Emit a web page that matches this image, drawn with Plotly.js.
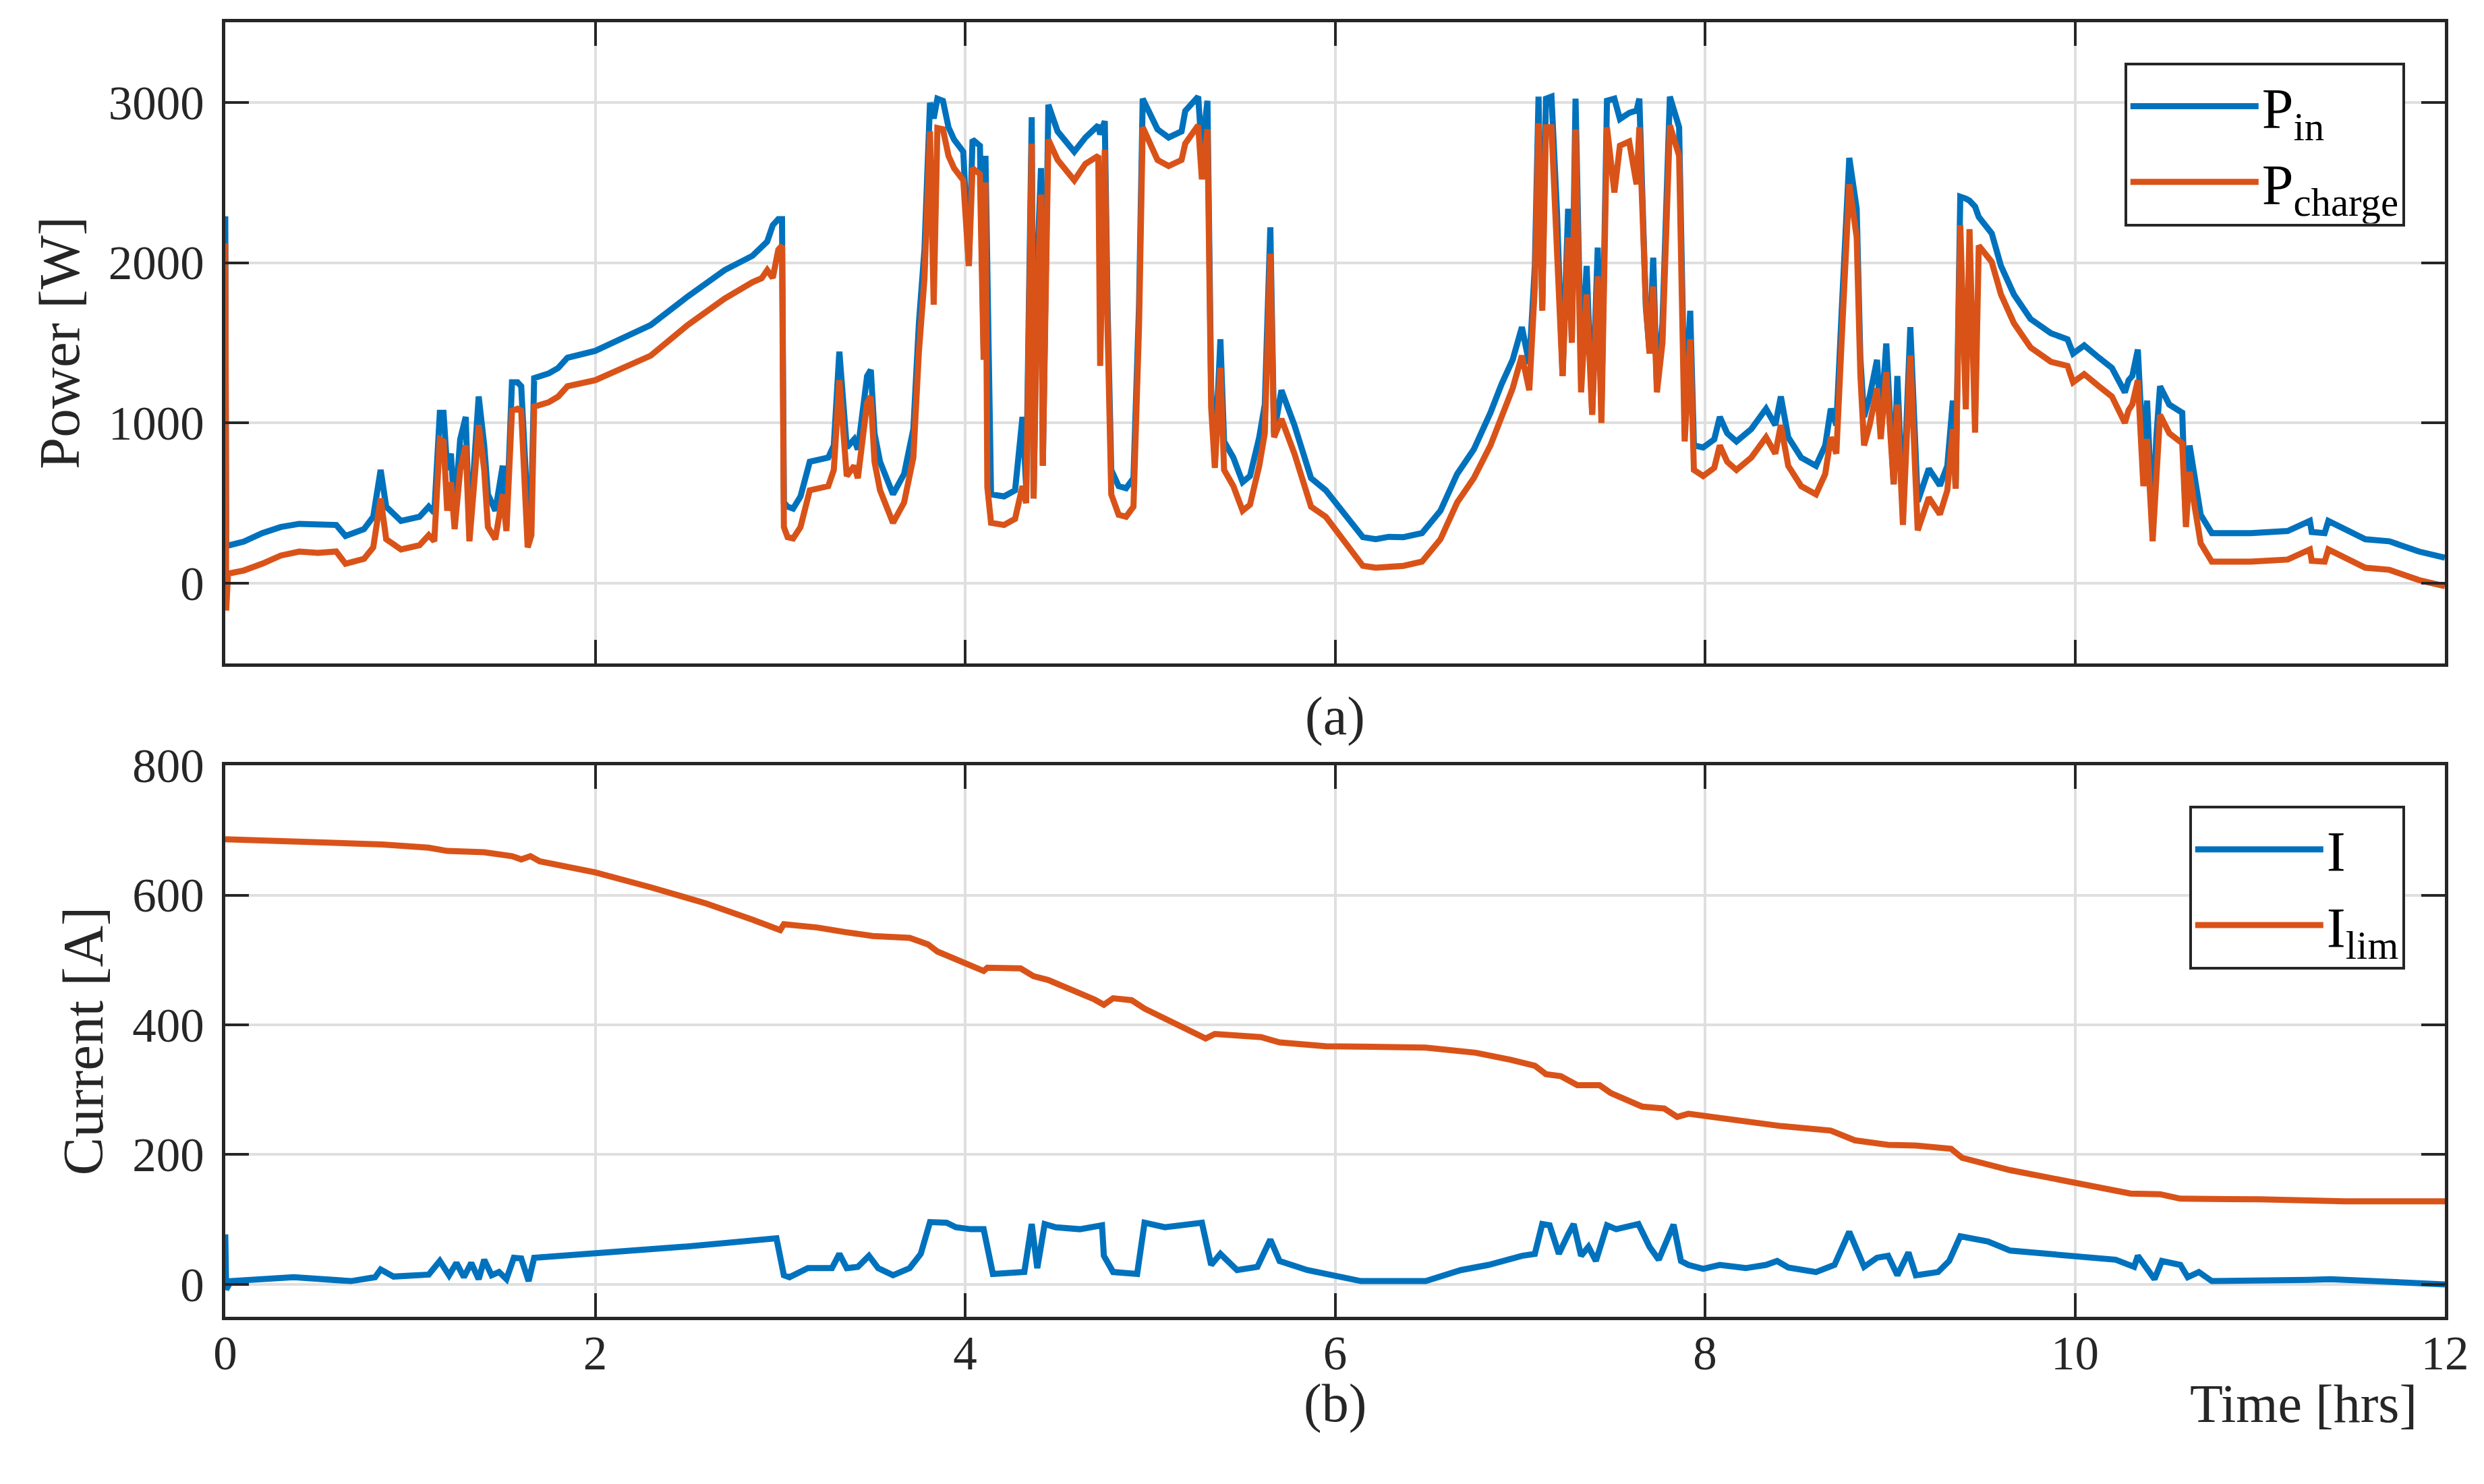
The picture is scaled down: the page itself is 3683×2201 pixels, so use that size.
<!DOCTYPE html>
<html>
<head>
<meta charset="utf-8">
<script src="https://cdn.plot.ly/plotly-3.0.1.min.js"></script>
<style>
  body { margin: 0; background: #fff; }
  #chart { width: 3683px; height: 2201px; }
</style>
</head>
<body>
<div id="chart"></div>
<script>
// power panel (a): time [hrs], input power and charge power [W]
const hoursP = [
  0, 0.005, 0.015, 0.1, 0.2, 0.3, 0.4, 0.5, 0.6, 0.65, 0.75, 0.8, 0.84, 0.87, 0.95,
  1.05, 1.1, 1.13, 1.16, 1.18, 1.2, 1.22, 1.24, 1.27, 1.3, 1.32, 1.35, 1.37, 1.4, 1.42,
  1.46, 1.5, 1.52, 1.55, 1.58, 1.6, 1.635, 1.655, 1.67, 1.75, 1.8, 1.85, 2.0, 2.15, 2.3,
  2.5, 2.7, 2.85, 2.9, 2.93, 2.96, 2.99, 3.01, 3.02, 3.04, 3.07, 3.11, 3.16, 3.26, 3.29,
  3.32, 3.36, 3.4, 3.42, 3.47, 3.49, 3.51, 3.54, 3.61, 3.67, 3.72, 3.75, 3.78, 3.81, 3.83,
  3.85, 3.88, 3.91, 3.94, 3.99, 4.02, 4.04, 4.08, 4.1, 4.11, 4.12, 4.14, 4.21, 4.27, 4.31,
  4.33, 4.36, 4.37, 4.39, 4.41, 4.42, 4.45, 4.5, 4.59, 4.65, 4.72, 4.73, 4.755, 4.77, 4.79,
  4.83, 4.87, 4.91, 4.94, 4.96, 5.04, 5.1, 5.17, 5.19, 5.26, 5.28, 5.31, 5.33, 5.35, 5.38,
  5.4, 5.45, 5.5, 5.54, 5.59, 5.62, 5.65, 5.67, 5.71, 5.78, 5.87, 5.95, 6.04, 6.15, 6.22,
  6.29, 6.37, 6.47, 6.57, 6.66, 6.75, 6.84, 6.9, 6.96, 7.01, 7.05, 7.08, 7.1, 7.12, 7.14,
  7.17, 7.2, 7.23, 7.26, 7.28, 7.3, 7.33, 7.36, 7.39, 7.42, 7.44, 7.47, 7.51, 7.54, 7.59,
  7.63, 7.645, 7.68, 7.7, 7.72, 7.74, 7.77, 7.81, 7.84, 7.86, 7.89, 7.92, 7.94, 7.99, 8.05,
  8.08, 8.12, 8.17, 8.25, 8.33, 8.38, 8.41, 8.45, 8.52, 8.6, 8.65, 8.68, 8.71, 8.74, 8.78,
  8.82, 8.84, 8.86, 8.89, 8.93, 8.95, 8.98, 9.02, 9.04, 9.07, 9.11, 9.15, 9.21, 9.27, 9.31,
  9.34, 9.355, 9.38, 9.41, 9.43, 9.46, 9.48, 9.55, 9.6, 9.67, 9.76, 9.87, 9.96, 9.99, 10.05,
  10.13, 10.2, 10.27, 10.29, 10.31, 10.34, 10.37, 10.39, 10.42, 10.44, 10.46, 10.51, 10.58, 10.6, 10.62,
  10.64, 10.68, 10.74, 10.95, 11.15, 11.27, 11.28, 11.35, 11.37, 11.46, 11.57, 11.7, 11.86, 12.0
];
const powerIn = [
  2290, 240, 235, 260, 313, 351, 371, 365, 364, 295, 338, 415, 707, 478, 389,
  415, 478, 440, 1064, 1064, 707, 809, 440, 898, 1038, 300, 885, 1165, 860, 555,
  453, 733, 351, 1254, 1254, 1229, 453, 500, 1280, 1310, 1343, 1407, 1450, 1530, 1611,
  1789, 1954, 2043, 2094, 2132, 2234, 2272, 2272, 504, 478, 466, 542, 758, 784, 860,
  1445, 847, 898, 835, 1293, 1331, 936, 758, 555, 682, 962, 1623, 2081, 2998, 2900,
  3023, 3010, 2845, 2768, 2692, 1980, 2768, 2730, 1471, 2667, 1827, 555, 542, 580, 1038,
  600, 2908, 529, 2000, 2590, 733, 2985, 2819, 2692, 2781, 2857, 2800, 2883, 1725, 707,
  606, 593, 656, 1725, 3023, 2832, 2781, 2819, 2947, 3036, 2692, 3010, 1216, 758, 1522,
  885, 784, 631, 669, 911, 1115, 2221, 936, 1204, 987, 656, 580, 453, 288, 275,
  290, 288, 313, 453, 682, 835, 1064, 1242, 1394, 1598, 1369, 1980, 3036, 1725, 3023,
  3036, 2310, 1293, 2336, 1522, 3023, 1344, 1980, 1064, 2094, 1089, 3010, 3023, 2896, 2934,
  2950, 3023, 1725, 1445, 2031, 1216, 1623, 3036, 2921, 2845, 1064, 1700, 860, 847, 898,
  1038, 936, 885, 962, 1089, 987, 1165, 911, 784, 733, 860, 1089, 987, 1725, 2654,
  2336, 1400, 1038, 1165, 1394, 1000, 1496, 618, 1293, 450, 1598, 510, 715, 610, 733,
  1140, 590, 2412, 2400, 2387, 2350, 2285, 2183, 1980, 1802, 1649, 1560, 1522, 1433, 1484,
  1407, 1343, 1191, 1267, 1293, 1458, 758, 1140, 351, 911, 1229, 1115, 1064, 377, 860,
  707, 427, 313, 313, 326, 389, 320, 313, 389, 338, 275, 262, 198, 160
];
const powerCharge = [
  2120, -170, 60, 80, 122, 173, 198, 190, 198, 122, 153, 224, 529, 275, 211,
  237, 300, 262, 898, 885, 453, 631, 338, 707, 860, 262, 682, 987, 707, 351,
  275, 555, 326, 1076, 1089, 1076, 224, 300, 1102, 1130, 1165, 1229, 1267, 1340, 1420,
  1611, 1776, 1878, 1903, 1954, 1905, 2081, 2107, 351, 288, 280, 351, 580, 606, 707,
  1267, 669, 733, 656, 1127, 1165, 758, 580, 377, 504, 784, 1445, 1900, 2819, 1738,
  2840, 2832, 2667, 2590, 2514, 1980, 2590, 2552, 1394, 2501, 600, 377, 364, 402, 606,
  500, 2743, 529, 1800, 2425, 733, 2768, 2641, 2514, 2616, 2667, 1356, 2705, 1600, 555,
  427, 415, 478, 1600, 2845, 2641, 2603, 2641, 2743, 2857, 2520, 2832, 1100, 720, 1344,
  707, 606, 453, 491, 733, 936, 2056, 911, 1025, 809, 478, 415, 275, 109, 97,
  105, 109, 135, 275, 504, 656, 860, 1038, 1216, 1420, 1204, 1852, 2870, 1700, 2845,
  2845, 2100, 1293, 2158, 1500, 2832, 1191, 1802, 1051, 1916, 1000, 2845, 2438, 2730, 2756,
  2489, 2845, 1750, 1433, 1852, 1191, 1500, 2857, 2743, 2667, 885, 1522, 707, 669, 720,
  860, 758, 707, 784, 911, 809, 987, 733, 606, 555, 682, 911, 809, 1547, 2489,
  2158, 1300, 860, 987, 1216, 900, 1318, 618, 1115, 364, 1420, 330, 535, 430, 580,
  962, 590, 2234, 1085, 2209, 940, 2107, 2005, 1802, 1623, 1471, 1382, 1356, 1254, 1305,
  1229, 1165, 1000, 1080, 1115, 1267, 606, 900, 262, 700, 1051, 936, 873, 351, 695,
  530, 249, 135, 135, 148, 211, 140, 135, 211, 160, 97, 84, 20, -18
];

// current panel (b): measured current [A]
const hoursI = [
  0, 0.005, 0.03, 0.37, 0.68, 0.81, 0.84, 0.91, 1.1, 1.16, 1.21, 1.25, 1.29, 1.33, 1.37,
  1.4, 1.44, 1.48, 1.52, 1.56, 1.6, 1.64, 1.67, 2.0, 2.48, 2.98, 3.02, 3.05, 3.15, 3.28,
  3.32, 3.36, 3.42, 3.48, 3.53, 3.61, 3.7, 3.76, 3.81, 3.9, 3.95, 4.03, 4.1, 4.15, 4.32,
  4.36, 4.39, 4.43, 4.49, 4.62, 4.74, 4.75, 4.8, 4.93, 4.97, 5.08, 5.28, 5.33, 5.38, 5.47,
  5.58, 5.65, 5.7, 5.85, 5.98, 6.14, 6.49, 6.68, 6.83, 7.01, 7.08, 7.12, 7.16, 7.21, 7.26,
  7.29, 7.33, 7.37, 7.41, 7.47, 7.52, 7.64, 7.7, 7.75, 7.83, 7.87, 7.91, 7.99, 8.08, 8.22,
  8.33, 8.39, 8.45, 8.6, 8.7, 8.78, 8.86, 8.93, 8.99, 9.04, 9.1, 9.14, 9.26, 9.32, 9.38,
  9.53, 9.65, 9.84, 10.0, 10.22, 10.32, 10.34, 10.43, 10.47, 10.57, 10.61, 10.67, 10.74, 11.26, 11.38,
  11.69, 12.0
];
const current = [
  77, -8, 5, 11, 5, 11, 23, 12, 15, 36, 14, 33, 11, 33, 8,
  38, 14, 19, 8, 41, 40, 5, 41, 47, 58, 71, 14, 11, 25, 25,
  47, 25, 27, 44, 25, 14, 25, 47, 96, 95, 88, 85, 85, 16, 19,
  93, 25, 93, 88, 85, 91, 44, 19, 16, 95, 88, 95, 30, 47, 22,
  27, 69, 36, 22, 14, 5, 5, 22, 30, 44, 47, 93, 91, 47, 77,
  93, 44, 58, 36, 91, 85, 93, 58, 38, 92, 36, 30, 24, 30, 25,
  30, 36, 26, 19, 30, 81, 27, 41, 44, 14, 49, 14, 19, 36, 74,
  66, 52, 47, 44, 38, 27, 44, 8, 36, 30, 11, 19, 5, 7, 8,
  4, 0
];

// current limit [A]
const hoursLim = [
  0, 0.5, 0.85, 1.1, 1.2, 1.4, 1.55, 1.6, 1.65, 1.7, 2.0, 2.3, 2.6, 2.85, 3.0,
  3.02, 3.2, 3.35, 3.5, 3.7, 3.8, 3.85, 4.0, 4.1, 4.12, 4.3, 4.37, 4.45, 4.7, 4.75,
  4.8, 4.9, 4.97, 5.3, 5.35, 5.6, 5.7, 5.95, 6.49, 6.76, 6.95, 7.08, 7.14, 7.22, 7.31,
  7.43, 7.49, 7.66, 7.78, 7.85, 7.91, 8.14, 8.41, 8.68, 8.74, 8.81, 8.99, 9.14, 9.33, 9.39,
  9.65, 10.0, 10.3, 10.46, 10.57, 11.0, 11.46, 12.0
];
const currentLim = [
  686, 682, 678, 673, 668, 666, 660, 655, 660, 652, 635, 612, 587, 562, 546,
  555, 550, 543, 537, 534, 524, 513, 494, 483, 488, 487, 475, 469, 439, 431,
  441, 438, 425, 379, 386, 381, 373, 367, 365, 357, 346, 337, 324, 321, 307,
  307, 295, 274, 271, 258, 263, 255, 244, 237, 230, 222, 215, 214, 209, 195,
  176, 156, 140, 139, 132, 131, 128, 128
];

const hourTicks = [0, 2, 4, 6, 8, 10, 12];

const BLUE = "#0072BD";
const ORANGE = "#D95319";
const INK = "#262626";
const FONT = "'Liberation Serif', 'Times New Roman', serif";

const traces = [
  {
    x: hoursP, y: powerIn, name: "P<sub>in</sub>", type: "scatter", mode: "lines",
    line: { color: BLUE, width: 9 }, xaxis: "x", yaxis: "y", legend: "legend",
  },
  {
    x: hoursP, y: powerCharge, name: "P<sub>charge</sub>", type: "scatter", mode: "lines",
    line: { color: ORANGE, width: 9 }, xaxis: "x", yaxis: "y", legend: "legend",
  },
  {
    x: hoursI, y: current, name: "I", type: "scatter", mode: "lines",
    line: { color: BLUE, width: 9 }, xaxis: "x2", yaxis: "y2", legend: "legend2",
  },
  {
    x: hoursLim, y: currentLim, name: "I<sub>lim</sub>", type: "scatter", mode: "lines",
    line: { color: ORANGE, width: 9 }, xaxis: "x2", yaxis: "y2", legend: "legend2",
  },
];

const axisBase = {
  showline: true,
  linecolor: INK,
  linewidth: 5,
  mirror: "ticks",
  ticks: "inside",
  ticklen: 35,
  tickwidth: 4,
  tickcolor: INK,
  showgrid: true,
  gridcolor: "#dfdfdf",
  gridwidth: 4,
  zeroline: false,
  tickfont: { family: FONT, size: 71, color: INK },
};

const legendBase = {
  xanchor: "right",
  yanchor: "top",
  bgcolor: "#ffffff",
  bordercolor: INK,
  borderwidth: 4,
  itemwidth: 190,
  font: { family: FONT, size: 84, color: "#000" },
};

const labelFont = { family: FONT, size: 80, color: INK };

const layout = {
  width: 3683,
  height: 2201,
  margin: { l: 334, r: 58, t: 33, b: 248 },
  paper_bgcolor: "#ffffff",
  plot_bgcolor: "#ffffff",
  font: { family: FONT, color: INK },
  showlegend: true,
  xaxis: Object.assign({}, axisBase, {
    range: [0, 12], tickvals: hourTicks, showticklabels: false,
    anchor: "y",
    title: { text: "(a)", font: labelFont, standoff: 47 },
  }),
  yaxis: Object.assign({}, axisBase, {
    domain: [0.5047, 1], range: [-500, 3500], dtick: 1000, tick0: 0,
    anchor: "x", ticklabelstandoff: 12,
    title: { text: "Power [W]", font: { family: FONT, size: 85, color: INK }, standoff: 17 },
  }),
  xaxis2: Object.assign({}, axisBase, {
    range: [0, 12], tickvals: hourTicks, ticktext: hourTicks.map(String),
    anchor: "y2", ticklabelstandoff: -12,
  }),
  yaxis2: Object.assign({}, axisBase, {
    domain: [0, 0.426], range: [-50, 800], dtick: 200, tick0: 0,
    anchor: "x2", ticklabelstandoff: 12,
    title: { text: "Current [A]", font: { family: FONT, size: 85, color: INK }, standoff: 17 },
  }),
  legend: Object.assign({}, legendBase, { x: 0.982, y: 0.969 }),
  legend2: Object.assign({}, legendBase, { x: 0.982, y: 0.395 }),
  annotations: [
    {
      text: "(b)", xref: "paper", yref: "paper",
      x: 0.5, y: -0.067, xanchor: "center", yanchor: "middle",
      showarrow: false, font: labelFont,
    },
    {
      text: "Time [hrs]", xref: "paper", yref: "paper",
      x: 0.988, y: -0.067, xanchor: "right", yanchor: "middle",
      showarrow: false, font: labelFont,
    },
  ],
};

Plotly.newPlot("chart", traces, layout, { staticPlot: true });
</script>
</body>
</html>
